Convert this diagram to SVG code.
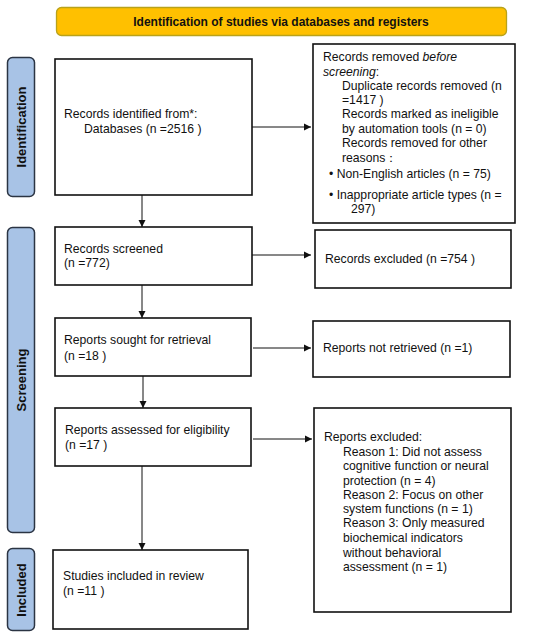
<svg xmlns="http://www.w3.org/2000/svg" width="550" height="638" viewBox="0 0 550 638">
<style>
text{font-family:"Liberation Sans",Arial,sans-serif;font-size:12.2px;fill:#111}
.box{fill:#fff;stroke:#111;stroke-width:1.6}
.lab{fill:#a8c3e6;stroke:#2b3443;stroke-width:1.5}
.lt{font-weight:bold;font-size:13px}
.con{stroke:#111;stroke-width:1;fill:none;marker-end:url(#ah)}
</style>
<defs>
<marker id="ah" markerWidth="8" markerHeight="8" refX="7" refY="4" orient="auto" markerUnits="userSpaceOnUse">
<path d="M0,0.5 L7,4 L0,7.5 Z" fill="#111"/>
</marker>
</defs>
<rect width="550" height="638" fill="#fff"/>
<g id="header">
<rect x="56.5" y="7.5" width="450" height="28" rx="5" fill="#ffc000" stroke="#b9a21a" stroke-width="1.3"/>
<text x="281" y="26" text-anchor="middle" style="font-weight:bold;font-size:12px">Identification of studies via databases and registers</text>
</g>
<g id="label-identification">
<rect class="lab" x="7.5" y="57.5" width="27" height="139" rx="5"/>
<text class="lt" transform="translate(25.5,127) rotate(-90)" text-anchor="middle">Identification</text>
</g>
<g id="label-screening">
<rect class="lab" x="7.5" y="227.5" width="27" height="305" rx="5"/>
<text class="lt" transform="translate(25.5,380) rotate(-90)" text-anchor="middle">Screening</text>
</g>
<g id="label-included">
<rect class="lab" x="7.5" y="548.5" width="27" height="82" rx="5"/>
<text class="lt" transform="translate(25.5,590) rotate(-90)" text-anchor="middle">Included</text>
</g>
<g id="records-identified">
<rect class="box" x="55" y="59" width="197" height="136"/>
<text x="64" y="118">Records identified from*:</text>
<text x="84" y="133">Databases (n =2516 )</text>
</g>
<g id="records-removed">
<rect class="box" x="313" y="44" width="202" height="179"/>
<text x="323" y="61">Records removed <tspan font-style="italic">before</tspan></text>
<text x="323" y="76"><tspan font-style="italic">screening</tspan>:</text>
<text x="342" y="90">Duplicate records removed  (n</text>
<text x="342" y="104">=1417 )</text>
<text x="342" y="118">Records marked as ineligible</text>
<text x="342" y="133">by automation tools (n = 0)</text>
<text x="342" y="147">Records removed for other</text>
<text x="342" y="162">reasons：</text>
<text x="329" y="178">• Non-English articles (n = 75)</text>
<text x="329" y="199">• Inappropriate article types (n =</text>
<text x="351" y="213">297)</text>
</g>
<g id="records-screened">
<rect class="box" x="55" y="227" width="197" height="58"/>
<text x="64" y="253">Records screened</text>
<text x="64" y="267">(n =772)</text>
</g>
<g id="records-excluded">
<rect class="box" x="315" y="230" width="196" height="58"/>
<text x="325" y="263">Records excluded (n =754 )</text>
</g>
<g id="reports-sought">
<rect class="box" x="55" y="318" width="196" height="58"/>
<text x="64" y="344">Reports sought for retrieval</text>
<text x="64" y="360">(n =18 )</text>
</g>
<g id="reports-not-retrieved">
<rect class="box" x="313" y="321" width="197" height="56"/>
<text x="323" y="352">Reports not retrieved (n =1)</text>
</g>
<g id="reports-assessed">
<rect class="box" x="55" y="408" width="196" height="58"/>
<text x="65" y="434">Reports assessed for eligibility</text>
<text x="65" y="449">(n =17 )</text>
</g>
<g id="reports-excluded">
<rect class="box" x="314" y="408" width="197" height="204"/>
<text x="324" y="441">Reports excluded:</text>
<text x="343" y="456">Reason 1: Did not assess</text>
<text x="343" y="470">cognitive function or neural</text>
<text x="343" y="485">protection (n = 4)</text>
<text x="343" y="499">Reason 2: Focus on other</text>
<text x="343" y="513">system functions  (n = 1)</text>
<text x="343" y="527">Reason 3: Only measured</text>
<text x="343" y="542">biochemical indicators</text>
<text x="343" y="557">without behavioral</text>
<text x="343" y="571">assessment (n = 1)</text>
</g>
<g id="studies-included">
<rect class="box" x="53" y="550" width="195" height="79"/>
<text x="63" y="580">Studies included in review</text>
<text x="63" y="595">(n =11 )</text>
</g>
<g id="connectors">
<line class="con" x1="142" y1="195" x2="142" y2="227"/>
<line class="con" x1="142" y1="285" x2="142" y2="318"/>
<line class="con" x1="143" y1="376" x2="143" y2="408"/>
<line class="con" x1="142" y1="466" x2="142" y2="550"/>
<line class="con" x1="252" y1="127" x2="311" y2="127"/>
<line class="con" x1="252" y1="255" x2="311" y2="255"/>
<line class="con" x1="253" y1="348" x2="311" y2="348"/>
<line class="con" x1="253" y1="439" x2="312" y2="439"/>
</g>
</svg>
